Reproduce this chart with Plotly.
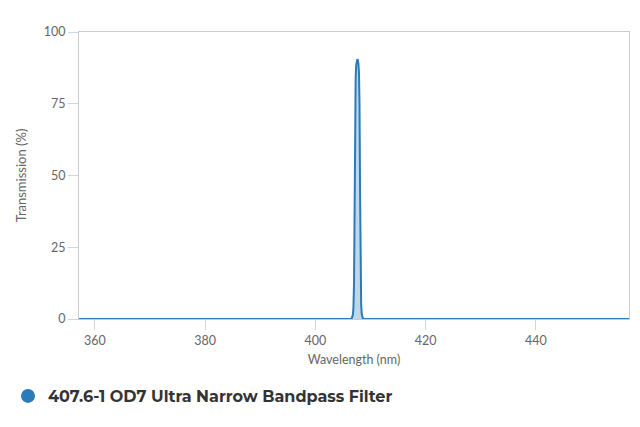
import plotly.graph_objects as go

wavelength = [357, 400, 405, 406.0, 406.4, 406.6, 406.8, 406.9, 407.0, 407.1, 407.2, 407.3, 407.4,
              407.5, 407.6, 407.7, 407.8, 407.9, 408.0, 408.1, 408.2, 408.3, 408.4, 408.5,
              408.6, 408.8, 409.2, 410, 415, 457]
transmission = [0, 0, 0, 0, 0, 0.3, 1.5, 4, 12, 35, 68, 84, 88.5,
                89.8, 90.5, 90.2, 89, 86, 75, 45, 16, 5, 1.8, 0.6,
                0.2, 0, 0, 0, 0, 0]

series_name = "407.6-1 OD7 Ultra Narrow Bandpass Filter"
x_ticks = [360, 380, 400, 420, 440]
y_ticks = [0, 25, 50, 75, 100]

line_color = "#2b7bb9"

fig = go.Figure()
fig.add_trace(go.Scatter(
    x=wavelength, y=transmission, mode="lines",
    line=dict(color=line_color, width=2),
    fill="tozeroy", fillcolor="rgba(43,123,185,0.3)",
    showlegend=False, hoverinfo="x+y",
))
fig.add_trace(go.Scatter(
    x=[None], y=[None], mode="markers",
    marker=dict(color=line_color, size=14, symbol="circle"),
    name=series_name, showlegend=True,
))

fig.update_layout(
    width=640, height=427,
    margin=dict(l=71, r=19, t=24, b=116, autoexpand=False),
    paper_bgcolor="white", plot_bgcolor="white",
    font=dict(family="Lato, sans-serif", size=12, color="#666666"),
    xaxis=dict(
        range=[357.1, 456.9], tickvals=x_ticks, showgrid=False, zeroline=False,
        showline=True, linecolor="#cccccc", linewidth=1, mirror=True,
        ticks="outside", ticklen=10, tickcolor="#ccd6eb",
        title=dict(text="Wavelength (nm)", standoff=8, font=dict(size=12.5, color="#666666")),
        tickfont=dict(size=12.5, color="#666666"),
    ),
    yaxis=dict(
        range=[0, 100], tickvals=y_ticks, showgrid=False, zeroline=False,
        showline=True, linecolor="#cccccc", linewidth=1, mirror=True,
        ticks="outside", ticklen=10, tickcolor="#ccd6eb",
        title=dict(text="Transmission (%)", standoff=14, font=dict(size=13, color="#666666")),
        tickfont=dict(size=12.5, color="#666666"),
    ),
    legend=dict(
        orientation="h", xref="container", yref="container",
        x=0.0, xanchor="left", y=0.0913, yanchor="middle",
        font=dict(family="Montserrat, 'DejaVu Sans', sans-serif", size=16,
                  color="#333333", weight="bold"),
        itemsizing="trace", itemwidth=30,
    ),
)

fig.write_html("out.html")
